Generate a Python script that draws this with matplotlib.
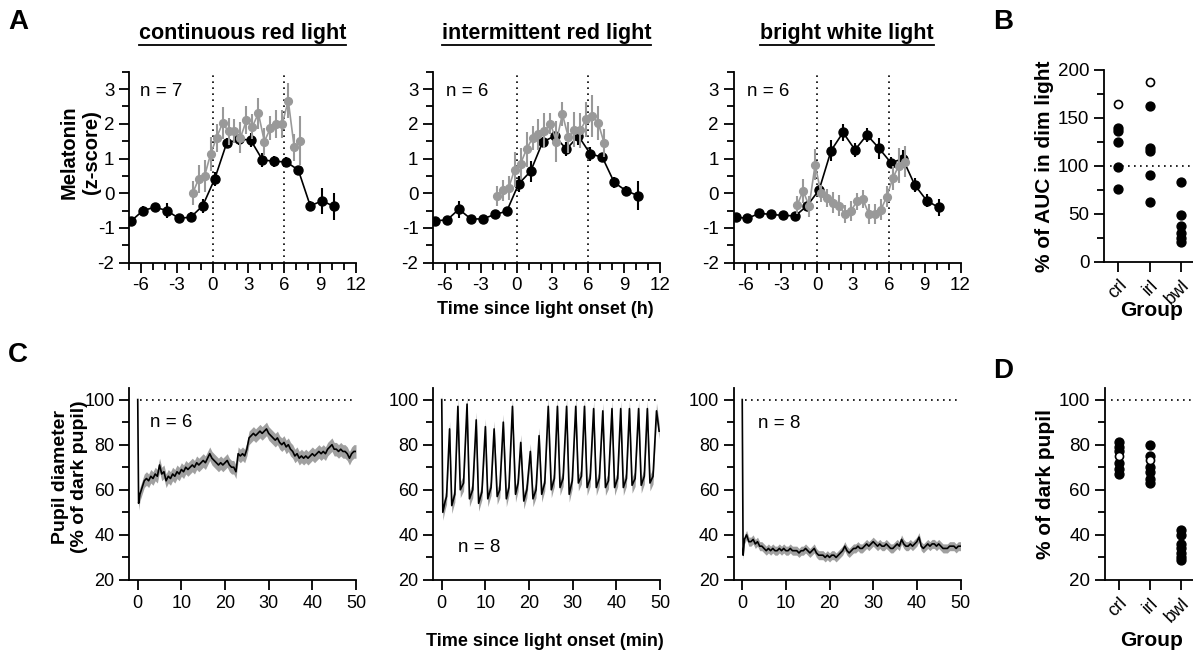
import matplotlib
matplotlib.use('Agg')
import matplotlib.pyplot as plt
from matplotlib.ticker import MultipleLocator
from matplotlib.lines import Line2D
import numpy as np

plt.rcParams['font.family'] = ['Liberation Sans', 'DejaVu Sans']
plt.rcParams['axes.linewidth'] = 1.3
plt.rcParams['font.size'] = 13
plt.rcParams['axes.unicode_minus'] = False

GREY = '#999999'

# --- Panel A: melatonin z-scores ---
dim_t = [-6.83, -5.83, -4.83, -3.83, -2.83, -1.83, -0.83, 0.17, 1.17, 2.17,
         3.17, 4.17, 5.17, 6.17, 7.17, 8.17, 9.17, 10.17]
light_t = [-1.67, -1.17, -0.67, -0.17, 0.33, 0.83, 1.33, 1.83, 2.33, 2.83,
           3.33, 3.83, 4.33, 4.83, 5.33, 5.83, 6.33, 6.83, 7.33]

crl_dim = [-0.80, -0.50, -0.40, -0.50, -0.72, -0.69, -0.36, 0.41, 1.44, 1.55,
           1.54, 0.96, 0.92, 0.90, 0.67, -0.36, -0.22, -0.38]
crl_dim_sem = [0.10, 0.12, 0.12, 0.22, 0.08, 0.15, 0.20, 0.20, 0.15, 0.15,
               0.20, 0.20, 0.15, 0.15, 0.10, 0.15, 0.38, 0.40]
crl_light = [0.00, 0.41, 0.50, 1.13, 1.60, 2.02, 1.78, 1.80, 1.60, 2.10,
             1.92, 2.30, 1.49, 1.87, 2.00, 2.00, 2.67, 1.32, 1.51]
crl_light_sem = [0.35, 0.40, 0.45, 0.50, 0.40, 0.45, 0.40, 0.35, 0.45, 0.40,
                 0.35, 0.45, 0.40, 0.35, 0.40, 0.40, 0.50, 0.40, 0.70]

irl_dim = [-0.79, -0.77, -0.46, -0.74, -0.74, -0.61, -0.52, 0.27, 0.63, 1.47,
           1.65, 1.27, 1.65, 1.13, 1.04, 0.31, 0.07, -0.07]
irl_dim_sem = [0.08, 0.08, 0.25, 0.08, 0.08, 0.08, 0.10, 0.22, 0.30, 0.15,
               0.12, 0.20, 0.25, 0.20, 0.12, 0.15, 0.15, 0.42]
irl_light = [-0.08, 0.08, 0.15, 0.68, 0.85, 1.27, 1.59, 1.70, 1.80, 2.00,
             1.49, 2.28, 1.61, 1.83, 1.81, 2.13, 2.23, 2.02, 1.44]
irl_light_sem = [0.30, 0.30, 0.35, 0.50, 0.45, 0.50, 0.35, 0.45, 0.50, 0.30,
                 0.60, 0.35, 0.45, 0.50, 0.50, 0.50, 0.60, 0.50, 0.40]

bwl_dim = [-0.69, -0.72, -0.58, -0.61, -0.64, -0.65, -0.36, 0.10, 1.23, 1.75,
           1.25, 1.68, 1.30, 0.88, 0.99, 0.24, -0.21, -0.41]
bwl_dim_sem = [0.08, 0.08, 0.08, 0.08, 0.08, 0.10, 0.15, 0.15, 0.30, 0.25,
               0.20, 0.20, 0.30, 0.15, 0.25, 0.20, 0.20, 0.25]
bwl_light = [-0.34, 0.07, -0.37, 0.82, 0.00, -0.14, -0.27, -0.36, -0.60, -0.51,
             -0.23, -0.17, -0.60, -0.60, -0.48, -0.10, 0.43, 0.79, 0.91]
bwl_light_sem = [0.25, 0.35, 0.30, 0.45, 0.25, 0.25, 0.30, 0.30, 0.25, 0.30,
                 0.25, 0.25, 0.30, 0.30, 0.30, 0.30, 0.35, 0.50, 0.45]

titles = ['continuous red light', 'intermittent red light', 'bright white light']
n_mel = [7, 6, 6]

# --- Panel B: AUC relative to dim light ---
groups = ['crl', 'irl', 'bwl']
auc_filled = [[140, 136, 125, 99, 76], [163, 119, 116, 91, 63], [83, 49, 38, 30, 25, 21]]
auc_open = [[165], [188], []]

# --- Panel C: pupil traces (% of dark pupil) ---
grid_t = list(np.arange(0.5, 50.01, 0.5))
crl_pupil_t = [0, 0.2] + grid_t
crl_pupil = [100, 54,
             58, 61, 64, 65, 64, 66, 65, 67, 66, 71, 67, 68, 64, 66, 65, 67, 66, 68, 67, 69,
             68, 70, 69, 70, 71, 70, 72, 71, 72, 73, 72, 74, 76, 74, 73, 72, 71, 72, 71, 72,
             73, 71, 70, 70, 68, 76, 75, 76, 75, 78, 83, 84, 85, 84, 85, 86, 85, 86, 87, 85,
             84, 83, 82, 83, 81, 80, 81, 79, 80, 78, 77, 75, 76, 74, 75, 74, 75, 74, 75, 76,
             75, 76, 77, 76, 77, 76, 78, 79, 80, 78, 78, 77, 78, 77, 77, 76, 74, 76, 77, 77]
crl_pupil_sem = 3.0

irl_pupil_t = [0, 0.25, 0.8, 1.1, 1.8,
               2.3, 3.0, 3.7, 4.25, 5.0, 5.8, 6.35, 7.1, 7.9, 8.45, 9.2, 10.0,
               10.55, 11.3, 12.0, 12.7, 13.3, 14.1, 14.8, 15.4, 16.2, 16.9, 17.5, 18.1,
               18.8, 19.5, 20.3, 20.9, 21.6, 22.3, 22.9, 23.6, 24.4, 25.1, 25.8, 26.5,
               27.1, 27.8, 28.6, 29.2, 29.9, 30.7, 31.3, 32.0, 32.7, 33.3, 34.0, 34.8,
               35.4, 36.1, 36.9, 37.5, 38.2, 39.0, 39.6, 40.3, 41.0, 41.6, 42.3, 43.0,
               43.6, 44.3, 45.1, 45.7, 46.4, 47.1, 47.7, 48.4, 49.2, 49.8]
irl_pupil = [100, 50, 55, 57, 87,
             53, 58, 97, 60, 63, 98, 56, 60, 91, 54, 59, 88,
             56, 61, 87, 57, 60, 90, 56, 61, 97, 58, 63, 81,
             55, 60, 77, 56, 60, 84, 58, 63, 97, 60, 65, 97,
             61, 65, 97, 58, 64, 97, 63, 66, 97, 61, 65, 96,
             61, 65, 95, 61, 64, 96, 61, 65, 96, 61, 65, 96,
             62, 65, 96, 62, 66, 96, 63, 66, 95, 86]
irl_pupil_sem = 3.5

bwl_pupil_t = [0, 0.2] + grid_t
bwl_pupil = [100, 31,
             38, 40, 37, 37, 38, 36, 37, 35, 35, 34, 33, 34, 33, 34, 33, 33, 34, 33, 34, 33,
             33, 34, 33, 33, 33, 32, 33, 33, 34, 33, 32, 33, 34, 32, 31, 31, 31, 30, 31, 30,
             31, 31, 30, 31, 32, 33, 35, 33, 32, 33, 34, 34, 35, 34, 34, 35, 36, 35, 36, 37,
             36, 35, 36, 35, 35, 36, 35, 34, 34, 35, 36, 35, 38, 36, 35, 35, 36, 35, 36, 37,
             39, 35, 34, 35, 36, 35, 36, 36, 35, 36, 35, 34, 34, 34, 35, 35, 35, 34, 35, 35]
bwl_pupil_sem = 2.0

n_pupil = [6, 8, 8]

# --- Panel D: pupil size relative to dark ---
pup_filled = [[81, 79, 77, 72, 69, 67], [80, 75, 70, 68, 65, 63], [42, 40, 36, 34, 32, 30, 29]]
pup_open = [[75], [73], []]

fig = plt.figure(figsize=(11.93, 6.6), dpi=100)

W, H = 1193.0, 660.0
lefts = [129, 433, 733.5]
aw = 227


def style_axes(ax, size=13.5):
    ax.spines['top'].set_visible(False)
    ax.spines['right'].set_visible(False)
    ax.tick_params(which='major', direction='out', length=7.5, width=1.3, labelsize=size, pad=3)
    ax.tick_params(which='minor', direction='out', length=5, width=1.3)


dot = (0, (1, 2.6))

mel_dim = [crl_dim, irl_dim, bwl_dim]
mel_dim_sem = [crl_dim_sem, irl_dim_sem, bwl_dim_sem]
mel_light = [crl_light, irl_light, bwl_light]
mel_light_sem = [crl_light_sem, irl_light_sem, bwl_light_sem]

title_texts = []
for i in range(3):
    ax = fig.add_axes([lefts[i] / W, 1 - 262.7 / H, aw / W, 191 / H])
    style_axes(ax)
    ax.plot([0, 0], [-2, 3.5], color='black', lw=1.2, ls=dot)
    ax.plot([6, 6], [-2, 3.5], color='black', lw=1.2, ls=dot)
    ax.errorbar(dim_t, mel_dim[i], yerr=mel_dim_sem[i], color='black', lw=1.2,
                elinewidth=1.5, marker='o', ms=6.5, capsize=0, zorder=3)
    ax.errorbar(light_t, mel_light[i], yerr=mel_light_sem[i], color=GREY, lw=1.2,
                elinewidth=1.5, marker='o', ms=5.6, capsize=0, zorder=4)
    ax.set_xlim(-7, 12)
    ax.set_ylim(-2, 3.5)
    ax.xaxis.set_major_locator(MultipleLocator(3))
    ax.xaxis.set_minor_locator(MultipleLocator(1))
    ax.set_yticks([-2, -1, 0, 1, 2, 3])
    ax.yaxis.set_minor_locator(MultipleLocator(0.5))
    ax.spines['left'].set_bounds(-2, 3.5)
    ax.text(-6.1 + 0.2 * (i > 0), 2.93, 'n = %d' % n_mel[i], fontsize=13.5, va='center')
    t = fig.text((lefts[i] + aw / 2) / W, 1 - 33 / H, titles[i], fontsize=15.5,
                 fontweight='bold', ha='center', va='center')
    title_texts.append(t)

fig.text(80 / W, 1 - 152 / H, 'Melatonin\n(z-score)', rotation=90, ha='center', va='center',
         fontsize=14.5, fontweight='bold', linespacing=1.2)
fig.text(545 / W, 1 - 310 / H, 'Time since light onset (h)', ha='center', va='center',
         fontsize=13, fontweight='bold')

# panel B
axb = fig.add_axes([1104 / W, 1 - 262 / H, 89 / W, 192 / H])
style_axes(axb)
for k in range(3):
    axb.plot([k + 1] * len(auc_filled[k]), auc_filled[k], 'o', color='black', ms=6.4, zorder=3)
    if auc_open[k]:
        axb.plot([k + 1] * len(auc_open[k]), auc_open[k], 'o', mfc='white', mec='black',
                 mew=1.2, ms=5.8, zorder=4)
axb.plot([0.75, 3.5], [100, 100], color='black', lw=1.2, ls=dot)
axb.set_xlim(0.55, 3.38)
axb.set_ylim(0, 200)
axb.set_yticks([0, 50, 100, 150, 200])
axb.yaxis.set_minor_locator(MultipleLocator(25))
axb.set_xticks([1, 2, 3])
axb.set_xticklabels(groups, rotation=45, ha='right', rotation_mode='anchor', fontsize=13)
axb.set_ylabel('% of AUC in dim light', fontsize=15, fontweight='bold', labelpad=3)
fig.text(1152 / W, 1 - 310 / H, 'Group', ha='center', va='center', fontsize=15,
         fontweight='bold')

# panel C
pup_t = [crl_pupil_t, irl_pupil_t, bwl_pupil_t]
pup_v = [crl_pupil, irl_pupil, bwl_pupil]
pup_sem = [crl_pupil_sem, irl_pupil_sem, bwl_pupil_sem]
n_pos = [(2.8, 89.8), (3.7, 34.5), (3.5, 89.2)]
for i in range(3):
    ax = fig.add_axes([lefts[i] / W, 1 - 580 / H, aw / W, 191.7 / H])
    style_axes(ax, size=13)
    tt = np.array(pup_t[i])
    vv = np.array(pup_v[i])
    ax.plot([0.6, 50], [100, 100], color='black', lw=1.2, ls=dot)
    ax.fill_between(tt, vv - pup_sem[i], vv + pup_sem[i], color='#a0a0a0', lw=0, zorder=2)
    ax.plot(tt, vv, color='black', lw=1.2, zorder=3)
    ax.set_xlim(-2, 50)
    ax.set_ylim(20, 105)
    ax.set_xticks([0, 10, 20, 30, 40, 50])
    ax.set_yticks([20, 40, 60, 80, 100])
    ax.yaxis.set_minor_locator(MultipleLocator(10))
    ax.spines['left'].set_bounds(20, 105)
    ax.text(n_pos[i][0], n_pos[i][1], 'n = %d' % n_pupil[i], fontsize=13.5, va='center')

fig.text(70 / W, 1 - 477 / H, 'Pupil diameter\n(% of dark pupil)', rotation=90, ha='center',
         va='center', fontsize=14, fontweight='bold', linespacing=1.15)
fig.text(545 / W, 1 - 641 / H, 'Time since light onset (min)', ha='center', va='center',
         fontsize=13, fontweight='bold')

# panel D
axd = fig.add_axes([1105 / W, 1 - 580 / H, 88 / W, 191.7 / H])
style_axes(axd)
for k in range(3):
    axd.plot([k + 1] * len(pup_filled[k]), pup_filled[k], 'o', color='black', ms=6.4, zorder=3)
    if pup_open[k]:
        axd.plot([k + 1] * len(pup_open[k]), pup_open[k], 'o', mfc='white', mec='black',
                 mew=1.2, ms=5.8, zorder=4)
axd.plot([0.75, 3.5], [100, 100], color='black', lw=1.2, ls=dot)
axd.set_xlim(0.55, 3.38)
axd.set_ylim(20, 105)
axd.set_yticks([20, 40, 60, 80, 100])
axd.yaxis.set_minor_locator(MultipleLocator(10))
axd.spines['left'].set_bounds(20, 105)
axd.set_xticks([1, 2, 3])
axd.set_xticklabels(groups, rotation=45, ha='right', rotation_mode='anchor', fontsize=13)
axd.set_ylabel('% of dark pupil', fontsize=15, fontweight='bold', labelpad=3)
fig.text(1152 / W, 1 - 641 / H, 'Group', ha='center', va='center', fontsize=15,
         fontweight='bold')

# panel letters
for letter, x, y in [('A', 18, 22), ('B', 1003, 22), ('C', 18, 355), ('D', 1003, 371)]:
    fig.text(x / W, 1 - y / H, letter, fontsize=20, fontweight='bold', ha='center', va='center')

# underline the panel titles
fig.canvas.draw()
renderer = fig.canvas.get_renderer()
for t in title_texts:
    bb = t.get_window_extent(renderer)
    y = bb.y0 - 1
    fig.add_artist(Line2D([bb.x0 / W, bb.x1 / W], [y / H, y / H],
                          transform=fig.transFigure, color='black', lw=1.3))

fig.savefig('out.png', dpi=100)
